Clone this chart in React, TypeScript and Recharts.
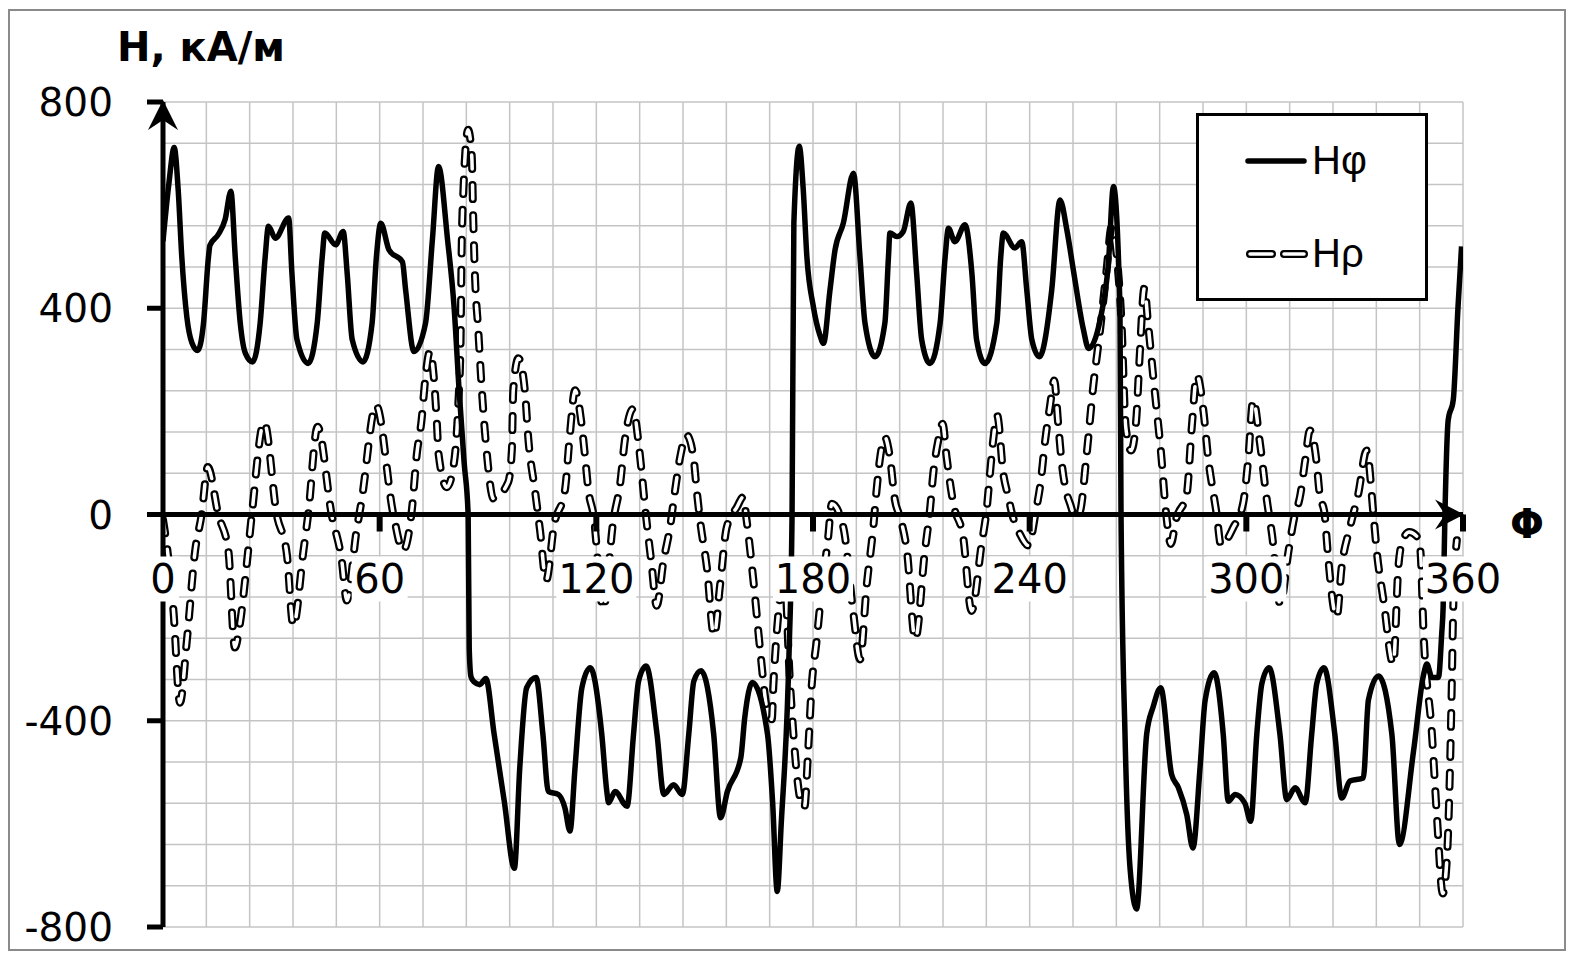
import { LineChart, Line, XAxis, YAxis, ReferenceLine, ReferenceDot } from "recharts";

// grid + axis labels
const X_GRID = [0, 12, 24, 36, 48, 60, 72, 84, 96, 108, 120, 132, 144, 156, 168, 180, 192, 204, 216, 228, 240, 252, 264, 276, 288, 300, 312, 324, 336, 348, 360];
const Y_GRID = [-800, -720, -640, -560, -480, -400, -320, -240, -160, -80, 0, 80, 160, 240, 320, 400, 480, 560, 640, 720, 800];
const X_LABELS = [0, 60, 120, 180, 240, 300, 360];
const Y_LABELS = [800, 400, 0, -400, -800];

// Hφ, kA/m vs angle (deg)
const H_PHI: [number, number][] = [
  [0, 530], [1.6, 640], [3.1, 712], [4.2, 630], [5.2, 500], [6.6, 383], [8.0, 333], [9.6, 318],
  [11.2, 370], [12.6, 500], [13.0, 522], [15.3, 543], [17.2, 572], [18.8, 627], [20.0, 500], [21.4, 371],
  [22.8, 313], [24.8, 296], [26.9, 371], [28.3, 500], [29.2, 559], [31.1, 536], [34.8, 575], [35.7, 468],
  [37.1, 339], [40.2, 293], [42.7, 371], [44.1, 500], [44.8, 546], [47.8, 523], [49.9, 549], [51.0, 468],
  [52.4, 339], [55.4, 296], [57.9, 371], [59.1, 500], [60.3, 565], [62.6, 513], [66.3, 490], [67.2, 435],
  [69.5, 316], [72.7, 371], [74.6, 533], [76.3, 675], [78.8, 533], [80.6, 403], [82.0, 241], [83.4, 100],
  [84.5, 0], [84.8, -260], [85.3, -315], [86.2, -325], [87.7, -330], [89.4, -318], [91.7, -426], [94.5, -556],
  [97.3, -686], [98.8, -491], [100.7, -336], [103.3, -316], [105.2, -426], [106.7, -537], [109.5, -543], [111.3, -569],
  [112.7, -614], [114.1, -491], [116.0, -336], [118.3, -297], [121.5, -426], [122.9, -537], [123.4, -559], [125.2, -537],
  [128.5, -566], [130.3, -426], [131.7, -323], [133.8, -294], [136.8, -426], [138.7, -543], [141.4, -524], [143.8, -543],
  [145.6, -426], [147.0, -323], [149.0, -303], [152.5, -426], [154.4, -588], [156.3, -537], [160.0, -472], [161.1, -394],
  [163.2, -326], [167.4, -426], [168.8, -556], [170.1, -731], [171.2, -600], [173.4, -260], [174.2, 0], [174.7, 565],
  [176.2, 714], [177.3, 630], [178.3, 500], [180.1, 403], [181.9, 348], [182.9, 332], [184.7, 435], [186.1, 513],
  [188.4, 565], [191.2, 662], [193.0, 500], [194.4, 371], [197.2, 306], [199.9, 371], [200.9, 500], [201.3, 546],
  [203.2, 539], [205.0, 549], [207.1, 604], [208.7, 468], [210.1, 339], [212.4, 293], [215.2, 371], [216.6, 500],
  [217.5, 555], [219.3, 529], [222.1, 562], [224.0, 468], [225.3, 339], [227.6, 293], [230.9, 371], [232.0, 500],
  [232.7, 546], [235.9, 517], [237.8, 529], [239.2, 435], [240.6, 339], [242.7, 306], [246.1, 435], [248.4, 610],
  [250.3, 552], [252.1, 474], [254.9, 358], [256.3, 322], [259.5, 377], [261.8, 487], [263.2, 636], [265.0, 403],
  [265.3, 0], [266.4, -426], [267.8, -686], [269.6, -765], [272.4, -426], [274.2, -373], [276.3, -336], [279.3, -504],
  [281.2, -530], [283.5, -582], [285.2, -647], [287.2, -489], [288.6, -360], [291.1, -307], [293.6, -426], [295.0, -556],
  [296.9, -543], [299.6, -560], [301.2, -595], [302.9, -426], [304.3, -328], [306.3, -297], [309.3, -426], [311.2, -553],
  [313.5, -530], [316.3, -559], [318.1, -426], [319.5, -328], [321.5, -297], [324.5, -426], [326.4, -550], [328.7, -517],
  [332.4, -511], [333.8, -360], [336.6, -313], [340.3, -426], [342.4, -640], [346.3, -459], [349.1, -310], [350.0, -290],
  [351.4, -316], [353.2, -316], [354.1, -232], [354.5, -180], [355.0, 0], [355.9, 183], [357.3, 222], [358.6, 400],
  [359.6, 520],
];

// Hρ, kA/m vs angle (deg)
const H_RHO: [number, number][] = [
  [0, -10], [1.0, -57], [2.9, -187], [4.7, -365], [6.6, -245], [8.9, -70], [10.7, 0], [12.4, 92],
  [15.3, 0], [18.1, -70], [19.9, -258], [21.3, -212], [23.2, -96], [24.6, 0], [28.0, 179], [31.5, 0],
  [34.3, -77], [36.1, -216], [38.9, -70], [40.2, 0], [42.8, 170], [46.7, 0], [49.5, -89], [50.9, -167],
  [53.6, -31], [55.0, 27], [59.0, 212], [63.8, 0], [66.5, -70], [68.9, 8], [70.3, 118], [71.6, 183],
  [72.6, 261], [73.9, 316], [75.8, 183], [76.3, 118], [78.6, 53], [80.4, 92], [81.8, 218], [82.4, 332],
  [82.7, 513], [83.2, 630], [84.5, 746], [85.5, 695], [85.9, 578], [86.4, 461], [87.3, 358], [88.3, 241],
  [89.6, 124], [91.5, 31], [95.6, 63], [96.6, 124], [97.0, 241], [98.4, 303], [100.2, 241], [101.2, 144],
  [103.0, 47], [104.4, -30], [106.1, -128], [108.3, -20], [111.3, 47], [112.7, 157], [114.1, 241], [115.9, 176],
  [116.9, 111], [117.8, 47], [119.2, 0], [121.9, -183], [124.7, -12], [126.6, 60], [127.9, 144], [130.2, 205],
  [131.6, 144], [132.6, 79], [133.5, 14], [135.3, -96], [136.7, -177], [138.6, -90], [140.4, -25], [141.8, 47],
  [143.2, 111], [145.0, 154], [146.9, 111], [147.8, 47], [148.7, -10], [150.6, -102], [152.6, -235], [154.3, -135],
  [156.1, -25], [158.9, 14], [160.7, 34], [161.6, -10], [163.5, -128], [165.3, -258], [167.2, -375], [168.6, -397],
  [169.0, -336], [170.4, -193], [172.0, -110], [173.6, -323], [176.9, -563], [177.6, -568], [178.7, -452], [179.6, -336],
  [181.0, -245], [181.9, -180], [184.2, -44], [185.2, 21], [188.4, -25], [191.2, -193], [193.0, -281], [194.9, -135],
  [196.7, -25], [197.6, 47], [198.6, 111], [199.9, 150], [201.3, 111], [202.7, 27], [204.1, -5], [206.0, -70],
  [208.3, -242], [211.0, -70], [212.4, 10], [213.3, 79], [214.7, 144], [215.9, 176], [217.0, 111], [218.9, 20],
  [221.6, -44], [223.9, -187], [226.7, -57], [228.1, 10], [229.0, 79], [229.9, 144], [231.0, 192], [232.7, 79],
  [234.1, 34], [235.0, 5], [237.3, -38], [239.6, -60], [241.8, 10], [243.0, 60], [244.3, 144], [245.6, 209],
  [246.8, 260], [247.9, 176], [248.9, 99], [250.3, 40], [251.2, 21], [252.6, -5], [253.9, 5], [255.8, 118],
  [257.6, 248], [259.5, 358], [261.3, 474], [262.7, 558], [264.4, 480], [265.4, 377], [266.6, 170], [268.1, 124],
  [269.5, 183], [270.4, 299], [271.8, 440], [272.7, 377], [274.5, 248], [276.4, 118], [277.8, 1], [279.1, -57],
  [280.5, -10], [283.5, 40], [284.9, 170], [286.3, 270], [288.1, 202], [289.5, 105], [290.9, 40], [291.8, 0],
  [293.0, -60], [296.4, -25], [299.1, 21], [300.5, 105], [301.9, 222], [303.8, 137], [305.7, 27], [307.1, -38],
  [309.4, -174], [311.7, -70], [313.1, -12], [315.0, 40], [316.3, 105], [317.6, 163], [319.4, 105], [320.3, 40],
  [321.7, 0], [322.5, -70], [325.0, -200], [326.4, -102], [328.7, -25], [331.0, 40], [333.3, 124], [335.2, 0],
  [336.1, -70], [338.0, -167], [340.7, -290], [342.1, -102], [343.3, -50], [345.1, -34], [347.4, -44], [348.2, -70],
  [349.1, -232], [351.4, -426], [352.8, -588], [354.4, -735], [355.6, -660], [356.4, -491], [356.9, -329], [357.3, -180],
  [358.3, -50],
];

const phiData = H_PHI.map(([x, y]) => ({ x, y }));
const rhoData = H_RHO.map(([x, y]) => ({ x, y }));

const FONT = '"DejaVu Sans", sans-serif';
const LEGEND_FONT = '"Liberation Sans", Arial, sans-serif';
const W = 1560;
const H = 944;
const DASH = "14 16";

function YTick({ cx, cy, text }: { cx: number; cy: number; text: string }) {
  return (
    <g>
      <line x1={cx - 16} y1={cy} x2={cx} y2={cy} stroke="#000" strokeWidth={5} />
      <text x={cx - 50} y={cy + 14} textAnchor="end" fontFamily={FONT} fontSize={39} fill="#000">
        {text}
      </text>
    </g>
  );
}

function XTick({ cx, cy, text, v }: { cx: number; cy: number; text: string; v: number }) {
  const bw = text.length === 1 ? 32 : text.length === 2 ? 56 : 80;
  return (
    <g>
      {v !== 0 && <line x1={cx} y1={cy} x2={cx} y2={cy + 17} stroke="#000" strokeWidth={6} />}
      <rect x={cx - bw / 2} y={cy + 42} width={bw} height={45} fill="#fff" />
      <text x={cx} y={cy + 78} textAnchor="middle" fontFamily={FONT} fontSize={40} fill="#000">
        {text}
      </text>
    </g>
  );
}

function ArrowUp({ cx, cy }: { cx: number; cy: number }) {
  return <path d={`M${cx},${cy - 2} L${cx + 15},${cy + 28} L${cx},${cy + 18} L${cx - 15},${cy + 28} Z`} fill="#000" />;
}

function ArrowRight({ cx, cy }: { cx: number; cy: number }) {
  return <path d={`M${cx + 1},${cy} L${cx - 28},${cy + 15} L${cx - 18},${cy} L${cx - 28},${cy - 15} Z`} fill="#000" />;
}

function Overlay() {
  return (
    <svg width={W} height={H} style={{ position: "absolute", left: 0, top: 0, pointerEvents: "none" }}>
      <text x={109} y={53} fontFamily={FONT} fontWeight="bold" fontSize={40} fill="#000">
        H, кА/м
      </text>
      <text x={1502} y={530} fontFamily={FONT} fontWeight="bold" fontSize={40} fill="#000">
        Φ
      </text>
      {/* legend */}
      <rect x={1189.5} y={106.5} width={229} height={185} fill="#fff" stroke="#000" strokeWidth={3} />
      <line x1={1240} y1={153} x2={1296} y2={153} stroke="#000" strokeWidth={5.5} strokeLinecap="round" />
      <text x={1304} y={166} fontFamily={LEGEND_FONT} fontSize={40} fill="#000">
        Hφ
      </text>
      <line x1={1242} y1={246} x2={1296} y2={246} stroke="#000" strokeWidth={8} strokeDasharray="22 12" strokeLinecap="round" />
      <line x1={1242} y1={246} x2={1296} y2={246} stroke="#fff" strokeWidth={3.5} strokeDasharray="22 12" strokeLinecap="round" />
      <text x={1304} y={259} fontFamily={LEGEND_FONT} fontSize={40} fill="#000">
        Hρ
      </text>
    </svg>
  );
}

export default function App() {
  return (
    <div style={{ position: "relative", width: W, height: H, background: "#fff" }}>
      <div
        style={{
          position: "absolute", left: 0, top: 1, width: W - 2, height: H - 2,
          border: "2px solid #8a8a8a", boxSizing: "border-box",
        }}
      />
      <div style={{ position: "absolute", left: 0, top: 0 }}>
        <LineChart width={W} height={H} margin={{ top: 94, right: 105, bottom: 25, left: 155 }}>
          <XAxis type="number" dataKey="x" domain={[0, 360]} hide allowDataOverflow />
          <YAxis type="number" dataKey="y" domain={[-800, 800]} hide allowDataOverflow />
          {X_GRID.map((v) => (
            <ReferenceLine key={`gx${v}`} x={v} stroke="#c4c4c4" strokeWidth={1.5} zIndex={-100} />
          ))}
          {Y_GRID.map((v) => (
            <ReferenceLine key={`gy${v}`} y={v} stroke="#c4c4c4" strokeWidth={1.5} zIndex={-100} />
          ))}
          <Line data={rhoData} dataKey="y" type="monotone" stroke="#000" strokeWidth={8}
            strokeDasharray={DASH} strokeLinecap="round" dot={false} activeDot={false} isAnimationActive={false} />
          <Line data={rhoData} dataKey="y" type="monotone" stroke="#fff" strokeWidth={3.5}
            strokeDasharray={DASH} strokeLinecap="round" dot={false} activeDot={false} isAnimationActive={false} />
          <Line data={phiData} dataKey="y" type="monotone" stroke="#000" strokeWidth={5.5}
            dot={false} activeDot={false} isAnimationActive={false} />
          <ReferenceLine x={0} stroke="#000" strokeWidth={5} zIndex={2500} />
          <ReferenceLine y={0} stroke="#000" strokeWidth={5} zIndex={2500} />
          <ReferenceDot x={0} y={800} zIndex={2600} shape={(p: any) => <ArrowUp cx={p.cx} cy={p.cy} />} />
          <ReferenceDot x={360} y={0} zIndex={2600} shape={(p: any) => <ArrowRight cx={p.cx} cy={p.cy} />} />
          {Y_LABELS.map((v) => (
            <ReferenceDot key={`yl${v}`} x={0} y={v} zIndex={2700}
              shape={(p: any) => <YTick cx={p.cx} cy={p.cy} text={String(v)} />} />
          ))}
          {X_LABELS.map((v) => (
            <ReferenceDot key={`xl${v}`} x={v} y={0} zIndex={2800}
              shape={(p: any) => <XTick cx={p.cx} cy={p.cy} text={String(v)} v={v} />} />
          ))}
        </LineChart>
      </div>
      <Overlay />
    </div>
  );
}
